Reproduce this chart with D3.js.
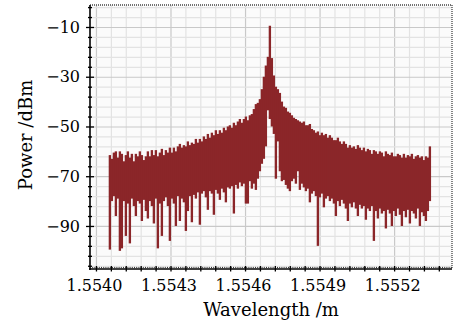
<!DOCTYPE html>
<html><head><meta charset="utf-8">
<script src="https://cdn.jsdelivr.net/npm/d3@7"></script>
<style>html,body{margin:0;padding:0;background:#fff;}svg{display:block;}</style>
</head><body>
<svg id="c" width="460" height="325"></svg>
<script>
// ---- data ----
// OSA sampling grid: first wavelength and step (m)
const wlStart = 1.554056;
const wlStep = 8.05e-6;
// upper envelope of trace (dBm) per sample
const powerHigh = [
-61.5,-63,-60.5,-60,-62.5,-60,-61,-64,-61.5,-60,
-62.5,-61,-64,-61,-62,-60,-61.5,-63.5,-62,-60,
-62,-59.5,-61.5,-59.5,-62,-60.5,-59,-61.5,-59.5,-60.5,
-58.5,-60.5,-58.5,-60,-58,-57,-58.5,-57.5,-58,-56,
-57.5,-56.5,-57,-55,-56.5,-55,-56,-54,-55,-53,
-54.5,-52.5,-53.5,-51.5,-53,-51.5,-52.5,-50.5,-51.5,-50,
-49.5,-50.5,-48.5,-49.5,-48,-47,-48.5,-47,-46,-47.5,
-45.5,-45,-43,-41,-40.5,-39,-35,-30,-25.5,-22,
-9.5,-22.5,-29.5,-34,-35,-36.5,-40,-42,-42.5,-44,
-44.5,-45.5,-46.5,-47,-47.5,-48,-48.5,-48,-49.5,-49.5,
-49,-51,-51.5,-52.5,-52,-53.5,-52.5,-53.5,-53,-54.5,
-53.5,-54.5,-55.5,-55.5,-54.5,-56,-57,-56,-57,-58.5,
-57.5,-58.5,-58,-59,-57.5,-58.5,-59.5,-58.5,-60,-59,
-59.5,-61,-59.5,-60,-61,-60,-60.5,-62,-60,-61,
-61.5,-60.5,-62,-62,-61,-61.5,-62.5,-61,-62.5,-61.5,
-62,-61,-63,-62,-61.5,-62.5,-62,-63.5,-62,-62.5,
-58
];
// lower envelope of trace (dBm) per sample
const powerLow = [
-99.5,-80,-78,-86,-79,-100,-99,-80,-94,-81,
-97,-79,-82,-86,-80,-81,-88,-79.5,-84,-87,
-80,-82,-89,-79,-99,-81,-94,-80,-78.5,-82,
-96,-79,-81,-90,-78,-88,-79,-80.5,-92,-84,
-78,-88.5,-77.5,-79,-76.5,-89.5,-77,-76,-78.5,-83.5,
-76,-77,-85.5,-75.5,-77,-79.5,-75,-76.5,-80.5,-74.5,
-75,-74,-85,-73.5,-75,-72.5,-74,-73,-81,-81,
-72,-75,-73,-75.5,-71,-68,-65,-63,-58,-43.5,
-47,-50,-53,-71,-56,-68,-72,-71.5,-73.5,-75,
-76,-72,-71,-73,-68,-75.5,-73,-74.5,-76,-75,
-80.5,-77,-76,-78,-98,-78.5,-77,-82.5,-79,-78,
-80,-79,-81,-86,-80,-82,-79.5,-81,-83,-88,
-81,-82.5,-80.5,-83,-86,-81.5,-83,-82,-87.5,-83,
-84,-82,-96,-84,-87,-83,-85,-84,-91,-83.5,
-85,-90,-84,-86,-83,-85.5,-90,-84,-86.5,-83.5,
-89,-84,-85,-87,-83,-90,-84.5,-86,-88,-84,
-80
];
const yMajorTicks = [-90, -70, -50, -30, -10];
const xMajorTicks = [1.5540, 1.5543, 1.5546, 1.5549, 1.5552];

// ---- layout ----
const L = 90, R = 452, T = 5, B = 269;
const svg = d3.select("#c");
const x = d3.scaleLinear().domain([1.553976, 1.555433]).range([L, R]);
const y = d3.scaleLinear().domain([-107.3, -1.16]).range([B, T]);

const font = "'DejaVu Serif', 'Liberation Serif', serif";

// plot background
svg.append("rect").attr("x", L).attr("y", T).attr("width", R - L).attr("height", B - T).attr("fill", "#fbfbfb");

// minor grid values
const xMinor = d3.range(0, 24).map(k => 1.5540 + k * 0.00006);
const yMinor = d3.range(-106, 0, 4);

// grid via axes
const gx = svg.append("g").attr("transform", `translate(0,${B})`)
  .call(d3.axisBottom(x).tickValues(xMinor).tickSize(-(B - T)).tickFormat(""));
gx.select(".domain").remove();
gx.selectAll(".tick line").attr("stroke", (d, i) => i % 5 === 0 ? "#c9c9c9" : "#e3e3e3").attr("stroke-width", 1.2);

const gy = svg.append("g").attr("transform", `translate(${L},0)`)
  .call(d3.axisLeft(y).tickValues(yMinor).tickSize(-(R - L)).tickFormat(""));
gy.select(".domain").remove();
gy.selectAll(".tick line").attr("stroke", d => yMajorTicks.includes(d) ? "#c9c9c9" : "#e3e3e3").attr("stroke-width", 1.2);

// trace
const bw = (x(wlStart + wlStep) - x(wlStart)) + 0.35;
svg.append("g").selectAll("rect").data(powerHigh).join("rect")
  .attr("x", (d, i) => x(wlStart + i * wlStep) - bw / 2)
  .attr("width", bw)
  .attr("y", d => y(d))
  .attr("height", (d, i) => y(powerLow[i]) - y(d))
  .attr("fill", "#8b2629");

// top & right dotted borders
svg.append("line").attr("x1", L).attr("x2", R).attr("y1", T).attr("y2", T)
  .attr("stroke", "#444").attr("stroke-width", 1.3).attr("stroke-dasharray", "1,1");
svg.append("line").attr("x1", R).attr("x2", R).attr("y1", T).attr("y2", B)
  .attr("stroke", "#444").attr("stroke-width", 1.3).attr("stroke-dasharray", "1,1");

// left axis
const ay = svg.append("g").attr("transform", `translate(${L},0)`)
  .call(d3.axisLeft(y).tickValues(yMinor).tickSize(3).tickFormat(""));
ay.select(".domain").remove();
ay.selectAll(".tick line").attr("x1", d => yMajorTicks.includes(d) ? 4 : 2)
  .attr("x2", d => yMajorTicks.includes(d) ? -4 : -2).attr("stroke", "#000").attr("stroke-width", 1.3);
svg.append("line").attr("x1", L).attr("x2", L).attr("y1", T).attr("y2", B + 1).attr("stroke", "#000").attr("stroke-width", 1.6);

const ayl = svg.append("g").attr("transform", `translate(${L},0)`)
  .call(d3.axisLeft(y).tickValues(yMajorTicks).tickSize(0).tickPadding(10).tickFormat(d3.format("d")));
ayl.select(".domain").remove();
ayl.selectAll("text").attr("font-family", font).attr("font-size", 16).attr("fill", "#000");

// bottom axis
svg.append("line").attr("x1", L).attr("x2", R).attr("y1", B - 1.6).attr("y2", B - 1.6)
  .attr("stroke", "#222").attr("stroke-width", 1).attr("stroke-dasharray", "1,1.2");
const ax = svg.append("g").attr("transform", `translate(0,${B})`)
  .call(d3.axisBottom(x).tickValues(xMinor).tickSize(3).tickFormat(""));
ax.select(".domain").remove();
ax.selectAll(".tick line").attr("y1", -3).attr("y2", 2.5).attr("stroke", "#000").attr("stroke-width", 1.3);
svg.append("line").attr("x1", L - 0.8).attr("x2", R).attr("y1", B).attr("y2", B).attr("stroke", "#000").attr("stroke-width", 1.6);

const axl = svg.append("g").attr("transform", `translate(0,${B})`)
  .call(d3.axisBottom(x).tickValues(xMajorTicks).tickSize(0).tickPadding(11).tickFormat(d3.format(".4f")));
axl.select(".domain").remove();
axl.selectAll("text").attr("font-family", font).attr("font-size", 16).attr("fill", "#000").attr("dx", -2);

// titles
svg.append("text").attr("x", 271).attr("y", 316).attr("text-anchor", "middle")
  .attr("font-family", font).attr("font-size", 18).attr("fill", "#000").text("Wavelength /m");
svg.append("text").attr("transform", "translate(32,135) rotate(-90)").attr("text-anchor", "middle")
  .attr("font-family", font).attr("font-size", 18).attr("fill", "#000").text("Power /dBm");
</script>
</body></html>
